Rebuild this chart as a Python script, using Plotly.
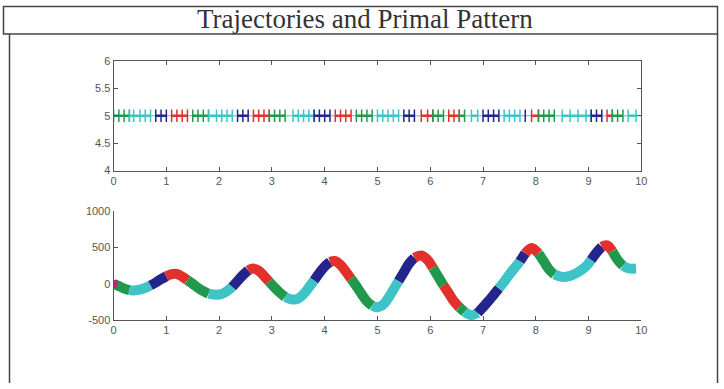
import plotly.graph_objects as go

W, H = 724, 389

# trajectory samples (time, value)
t_vals = [0.00, 0.10, 0.20, 0.30, 0.38, 0.50, 0.60, 0.70, 0.80, 0.90, 1.00, 1.10, 1.20, 1.30, 1.40,
          1.50, 1.60, 1.70, 1.80, 1.95, 2.05, 2.15, 2.25, 2.35, 2.45, 2.55, 2.65, 2.75, 2.85, 2.95,
          3.05, 3.15, 3.25, 3.40, 3.50, 3.60, 3.70, 3.80, 3.90, 4.00, 4.10, 4.20, 4.30, 4.40, 4.50,
          4.60, 4.70, 4.80, 4.90, 5.00, 5.10, 5.20, 5.30, 5.40, 5.50, 5.60, 5.70, 5.83, 5.95, 6.05,
          6.15, 6.25, 6.35, 6.45, 6.55, 6.65, 6.78, 6.90, 7.00, 7.10, 7.20, 7.30, 7.40, 7.50, 7.60,
          7.70, 7.80, 7.92, 8.05, 8.15, 8.25, 8.35, 8.50, 8.65, 8.80, 8.95, 9.05, 9.15, 9.25, 9.35,
          9.45, 9.55, 9.65, 9.75, 9.90]
y_vals = [0, -30, -65, -85, -90, -80, -55, -20, 20, 65, 105, 135, 138, 100, 50,
          0, -55, -100, -135, -150, -140, -100, -40, 40, 120, 185, 210, 180, 110, 30,
          -50, -120, -180, -215, -200, -140, -50, 50, 150, 240, 300, 312, 260, 170, 70,
          -30, -140, -240, -300, -320, -290, -200, -80, 40, 160, 280, 360, 390, 330, 220,
          100, -20, -130, -240, -320, -385, -430, -400, -320, -240, -150, -60, 30, 130, 220,
          310, 420, 495, 420, 310, 200, 130, 95, 110, 160, 240, 330, 430, 510, 530,
          450, 330, 250, 215, 210]

# colour segments (start time, end time, colour name)
seg_start = [0.00, 0.30, 0.78, 1.05, 1.45, 1.80, 2.30, 2.58, 2.95, 3.30, 3.80, 4.12, 4.55, 4.92, 5.45,
             5.75, 6.05, 6.32, 6.55, 6.75, 6.92, 7.35, 7.72, 7.86, 8.05, 8.38, 9.05, 9.28, 9.45, 9.68]
seg_end = [0.30, 0.78, 1.05, 1.45, 1.80, 2.30, 2.58, 2.95, 3.30, 3.80, 4.12, 4.55, 4.92, 5.45, 5.75,
           6.05, 6.32, 6.55, 6.75, 6.92, 7.35, 7.72, 7.86, 8.05, 8.38, 9.05, 9.28, 9.45, 9.68, 9.90]
seg_color = ["g", "c", "b", "r", "g", "c", "b", "r", "g", "c", "b", "r", "g", "c", "b",
             "r", "g", "r", "g", "c", "b", "c", "b", "r", "g", "c", "b", "r", "g", "c"]

palette = {"b": "#23248c", "r": "#e2312c", "g": "#21994c", "c": "#3ec3c6"}

x_ticks = [0, 1, 2, 3, 4, 5, 6, 7, 8, 9, 10]
top_y_ticks = [4, 4.5, 5, 5.5, 6]
bot_y_ticks = [-500, 0, 500, 1000]
bot_y_labels = ["-500", "0", "500", "1000"]
pattern_level = 5
title_text = "Trajectories and Primal Pattern"

fig = go.Figure()

# thin base line in top panel
fig.add_trace(go.Scatter(x=[0, 10], y=[pattern_level, pattern_level], mode="lines",
                         line=dict(color=palette["c"], width=1), xaxis="x", yaxis="y",
                         showlegend=False, hoverinfo="skip"))

for s, e, c in zip(seg_start, seg_end, seg_color):
    idx = [i for i, t in enumerate(t_vals) if s - 1e-9 <= t <= e + 1e-9]
    xs = [t_vals[i] for i in idx]
    ys = [y_vals[i] for i in idx]
    if idx and idx[0] > 0 and t_vals[idx[0]] > s + 1e-9:
        j = idx[0] - 1
        xs = [t_vals[j]] + xs
        ys = [y_vals[j]] + ys
    col = palette[c]
    fig.add_trace(go.Scatter(x=xs, y=ys, mode="lines", line=dict(color=col, width=10, shape="spline"),
                             xaxis="x2", yaxis="y2", showlegend=False, hoverinfo="skip"))
    tx = [t for t in t_vals if s <= t <= e]
    fig.add_trace(go.Scatter(x=tx, y=[pattern_level] * len(tx),
                             mode="lines+markers",
                             line=dict(color=col, width=2.5),
                             marker=dict(symbol="line-ns", size=9, line=dict(color=col, width=1.5)),
                             xaxis="x", yaxis="y", showlegend=False, hoverinfo="skip"))

fig.add_trace(go.Scatter(x=[t_vals[0]], y=[y_vals[0]], mode="markers",
                         marker=dict(symbol="square", size=8, color="#b0307a"),
                         xaxis="x2", yaxis="y2", showlegend=False, hoverinfo="skip"))

axis_common = dict(showgrid=False, zeroline=False, ticks="inside", ticklen=4, tickcolor="#555",
                   linecolor="#555", linewidth=1, showline=True,
                   tickfont=dict(family="Liberation Sans, Arial", size=11, color="#555"))

# the captured picture shows the page slightly inset and scaled; map target pixels to layout pixels
AX, SX, AY, SY = 3.5, 0.987, 6.1, 0.968


def px_x(p):
    v = (p - AX) / SX
    return min(max(v, 0.5), W - 0.5) / W


def px_y(p):
    v = (p - AY) / SY
    return 1 - min(max(v, 0.5), H - 0.5) / H


fig.update_layout(
    width=W, height=H, margin=dict(l=0, r=0, t=0, b=0),
    paper_bgcolor="white", plot_bgcolor="white",
    xaxis=dict(domain=[px_x(114), px_x(641.5)], range=[0, 10], tickvals=x_ticks, mirror="ticks",
               anchor="y", **axis_common),
    yaxis=dict(domain=[px_y(170.5), px_y(61)], range=[4, 6], tickvals=top_y_ticks, mirror="ticks",
               anchor="x", **axis_common),
    xaxis2=dict(domain=[px_x(114), px_x(641.5)], range=[0, 10], tickvals=x_ticks,
                anchor="y2", **axis_common),
    yaxis2=dict(domain=[px_y(320), px_y(211)], range=[-500, 1000], tickvals=bot_y_ticks,
                ticktext=bot_y_labels, anchor="x2", **axis_common),
    shapes=[
        dict(type="rect", xref="paper", yref="paper", x0=px_x(2), x1=px_x(721), y0=px_y(34), y1=px_y(4),
             line=dict(color="#444", width=1.5)),
        dict(type="line", xref="paper", yref="paper", x0=px_x(10), x1=px_x(10), y0=px_y(34), y1=0,
             line=dict(color="#444", width=1.5)),
        dict(type="line", xref="paper", yref="paper", x0=px_x(721), x1=px_x(721), y0=px_y(34), y1=0,
             line=dict(color="#444", width=1.5)),
    ],
    annotations=[
        dict(text=title_text, xref="paper", yref="paper", x=px_x(365), y=px_y(19),
             showarrow=False, xanchor="center", yanchor="middle",
             font=dict(family="Liberation Serif, Times New Roman", size=27, color="#333")),
    ],
)

fig.write_html(
    "out.html",
    config={"displayModeBar": False, "staticPlot": True},
    post_script=("var s=document.documentElement.style;s.margin='0';s.padding='0';s.overflow='hidden';"
                 "var b=document.body.style;b.margin='0';b.padding='0';b.overflow='hidden';"),
)
